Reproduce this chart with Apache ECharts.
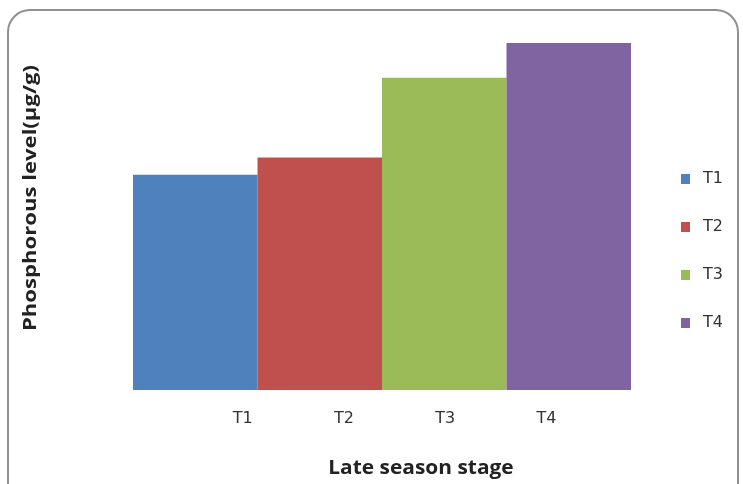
<!DOCTYPE html>
<html>
<head>
<meta charset="utf-8">
<script src="https://cdn.jsdelivr.net/npm/echarts@6/dist/echarts.min.js"></script>
<style>
  html, body { margin: 0; padding: 0; background: #fff; }
  #chart { width: 743px; height: 484px; }
</style>
</head>
<body>
<div id="chart"></div>
<script>
// Phosphorous level at late season stage, per treatment
const categories = ['T1', 'T2', 'T3', 'T4'];
const values = [6.2, 6.7, 9.0, 10.0];
const colors = ['#4f81bd', '#c0504d', '#9bbb59', '#8064a2'];
const yTitle = 'Phosphorous level(μg/g)';
const xTitle = 'Late season stage';

const TITLE_FONT = '"Open Sans", "Noto Sans", sans-serif';
const LABEL_FONT = '"DejaVu Sans", sans-serif';

// one series per treatment so each gets its own legend entry
const series = categories.map((name, i) => ({
  name: name,
  type: 'bar',
  stack: 'all',
  barWidth: '100%',
  xAxisIndex: 0,
  yAxisIndex: 0,
  itemStyle: { color: colors[i] },
  data: categories.map((c, j) => (j === i ? values[i] : '-'))
}));

const chart = echarts.init(document.getElementById('chart'));
chart.setOption({
  animation: false,
  color: colors,
  grid: [
    { left: 133, right: 112, top: 43, bottom: 94 },
    { left: 192, right: 146, top: 43, bottom: 94 }
  ],
  xAxis: [
    {
      gridIndex: 0, type: 'category', data: categories,
      axisLine: { show: false }, axisTick: { show: false }, axisLabel: { show: false }
    },
    {
      gridIndex: 1, type: 'category', data: categories,
      axisLine: { show: false }, axisTick: { show: false },
      axisLabel: { margin: 21, fontFamily: LABEL_FONT, fontSize: 16, color: '#333' }
    }
  ],
  yAxis: [
    {
      gridIndex: 0, type: 'value', min: 0, max: 10,
      axisLine: { show: false }, axisTick: { show: false },
      axisLabel: { show: false }, splitLine: { show: false }
    },
    {
      gridIndex: 1, type: 'value', min: 0, max: 10, show: false
    }
  ],
  legend: {
    orient: 'vertical',
    left: 676, top: 166,
    itemWidth: 9, itemHeight: 10, itemGap: 32,
    icon: 'rect',
    textStyle: { fontFamily: LABEL_FONT, fontSize: 16, color: '#333', padding: [0, 0, 0, 8] },
    data: categories
  },
  graphic: [
    {
      type: 'rect',
      shape: { x: 8, y: 10, width: 730, height: 500, r: 22 },
      style: { fill: 'none', stroke: '#909090', lineWidth: 2 },
      silent: true
    },
    {
      type: 'text',
      x: 421, y: 469,
      scaleX: 1.1,
      style: {
        text: xTitle, fontFamily: TITLE_FONT, fontSize: 19, fontWeight: 'bold',
        fill: '#222', align: 'center', verticalAlign: 'middle'
      }
    },
    {
      type: 'text',
      x: 31, y: 198,
      rotation: Math.PI / 2,
      scaleX: 1.3,
      style: {
        text: yTitle, fontFamily: TITLE_FONT, fontSize: 17, fontWeight: 'bold',
        fill: '#222', align: 'center', verticalAlign: 'middle'
      }
    }
  ],
  series: series
});
</script>
</body>
</html>
